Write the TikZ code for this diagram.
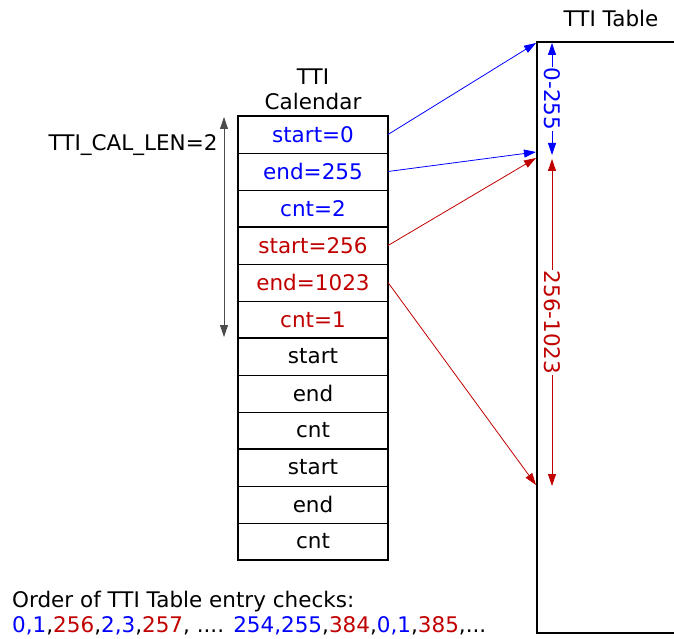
\documentclass[tikz,border=0pt]{standalone}
\usepackage{fontspec}
\setmainfont{DejaVu Sans}
\usetikzlibrary{positioning, calc, arrows.meta}
\definecolor{calblue}{RGB}{0,0,255}
\definecolor{calred}{RGB}{192,0,0}
\tikzset{
  calrow/.style={draw=black, line width=0.8pt, minimum width=150pt, minimum height=37pt, inner sep=0pt, outer sep=0pt},
  ptr/.style={-{Triangle[length=12pt,width=8pt]}, line width=0.8pt},
  span/.style={{Triangle[length=12pt,width=8pt]}-{Triangle[length=12pt,width=8pt]}, line width=0.8pt},
}

\begin{document}
\begin{tikzpicture}[x=1pt, y=-1pt, font=\fontsize{21.5}{24.5}\selectfont]
    \useasboundingbox (0,0) rectangle (674,639);

    % --- TTI Calendar rows (two filled entries, two empty) ---
    \node[calrow, text=calblue] (c1) at (313,134.5) {start=0};
    \node[calrow, text=calblue, below=0pt of c1] (c2) {end=255};
    \node[calrow, text=calblue, below=0pt of c2] (c3) {cnt=2};
    \node[calrow, text=calred, below=0pt of c3] (c4) {start=256};
    \node[calrow, text=calred, below=0pt of c4] (c5) {end=1023};
    \node[calrow, text=calred, below=0pt of c5] (c6) {cnt=1};
    \node[calrow, below=0pt of c6] (c7) {start};
    \node[calrow, below=0pt of c7] (c8) {end};
    \node[calrow, below=0pt of c8] (c9) {cnt};
    \node[calrow, below=0pt of c9] (c10) {start};
    \node[calrow, below=0pt of c10] (c11) {end};
    \node[calrow, below=0pt of c11] (c12) {cnt};

    % Heavy borders round each entry
    \draw[line width=2pt] (c1.north west) rectangle (c12.south east);
    \draw[line width=2pt] (c3.south west) -- (c3.south east);
    \draw[line width=2pt] (c6.south west) -- (c6.south east);
    \draw[line width=2pt] (c9.south west) -- (c9.south east);

    \node[above=3pt of c1, align=center] (calhdr) {TTI\\Calendar};

    % --- Calendar length marker ---
    \coordinate (lenTop) at (224,117);
    \coordinate (lenBot) at (224,337);
    \draw[span, black!70] (lenTop) -- (lenBot);
    \node[anchor=east] (lenlbl) at (221,145) {TTI\_CAL\_LEN=2};

    % --- TTI Table (open to the right) ---
    \coordinate (tblNE) at (690,42);
    \coordinate (tblNW) at (537,42);
    \coordinate (tblSW) at (537,633);
    \coordinate (tblSE) at (690,633);
    \draw[line width=2pt] (tblNE) -- (tblNW) -- (tblSW) -- (tblSE);
    \node (tblhdr) at (611,18) {TTI Table};

    % Pointer targets on the table edge
    \coordinate (t0) at (536,43);
    \coordinate (t255) at (536,152);
    \coordinate (t256) at (536,158);
    \coordinate (t1023) at (536,485);

    \draw[ptr, calblue] (c1.east) -- (t0);
    \draw[ptr, calblue] (c2.east) -- (t255);
    \draw[ptr, calred] (c4.east) -- (t256);
    \draw[ptr, calred] (c5.east) -- (t1023);

    % --- Index ranges inside the table ---
    \coordinate (r0) at (552,43);
    \coordinate (r255) at (552,155);
    \coordinate (r256) at (552,159);
    \coordinate (r1023) at (552,486);
    \draw[span, calblue] (r0) -- node[fill=white, rotate=-90, inner sep=1pt] (lbl0) {0-255} (r255);
    \draw[span, calred] (r256) -- node[fill=white, rotate=-90, inner sep=1pt] (lbl1) {256-1023} (r1023);

    % --- Check order note ---
    \node[anchor=north west, align=left, inner sep=0pt] (order) at (12,591) {Order of TTI Table entry checks:\\
      \textcolor{calblue}{0,1},\textcolor{calred}{256},\textcolor{calblue}{2,3},\textcolor{calred}{257}, .... \textcolor{calblue}{254,255},\textcolor{calred}{384},\textcolor{calblue}{0,1},\textcolor{calred}{385},...};

\end{tikzpicture}
\end{document}
